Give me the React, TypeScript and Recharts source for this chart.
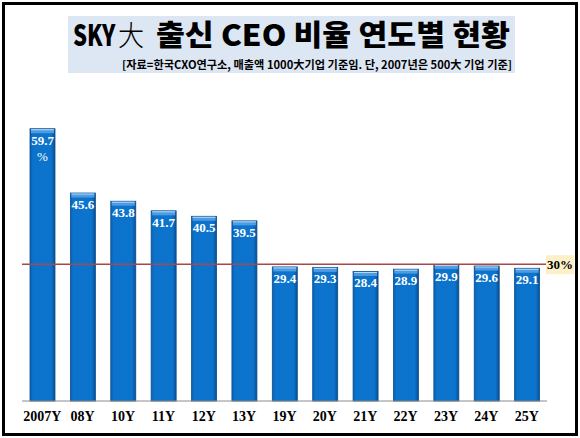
import React from 'react';
import { BarChart, Bar, XAxis, YAxis, ReferenceLine, LabelList } from 'recharts';

const years = ['2007Y', '08Y', '10Y', '11Y', '12Y', '13Y', '19Y', '20Y', '21Y', '22Y', '23Y', '24Y', '25Y'];
const ratios = [59.7, 45.6, 43.8, 41.7, 40.5, 39.5, 29.4, 29.3, 28.4, 28.9, 29.9, 29.6, 29.1];
const benchmark = 30;
const benchmarkLabel = '30%';
const titleParts = ['SKY', '大', '출신 CEO 비율 연도별 현황'];
const subtitle = '[자료=한국CXO연구소, 매출액 1000大기업  기준임. 단, 2007년은 500大 기업 기준]';

const data = years.map((year, i) => ({ year, ratio: ratios[i] }));

const SERIF = '"Liberation Serif", "Times New Roman", serif';
const KR = '"Noto Sans CJK KR", "Noto Sans", sans-serif';

const BevelBar = (props: any) => {
  const { x, y, width, height, index } = props;
  if (height <= 0) return null;
  const gid = `bg${index}`;
  return (
    <g>
      <defs>
        <linearGradient id={gid} x1="0" y1="0" x2="1" y2="0">
          <stop offset="0%" stopColor="#0a5fae" />
          <stop offset="12%" stopColor="#0c73cc" />
          <stop offset="85%" stopColor="#0c74cd" />
          <stop offset="100%" stopColor="#084f93" />
        </linearGradient>
      </defs>
      <rect x={x} y={y} width={width} height={height} fill={`url(#${gid})`} stroke="#0a4f8e" strokeWidth={0.8} />
      <rect x={x + 1} y={y + 0.5} width={width - 2} height={4} fill="#4d9be0" />
      <line x1={x + 1} x2={x + width - 1} y1={y + 1} y2={y + 1} stroke="#b9dcf7" strokeWidth={1} />
    </g>
  );
};

const BarValue = (props: any) => {
  const { x, y, width, value, index } = props;
  const cx = x + width / 2;
  return (
    <g>
      <text x={cx} y={y + 16} textAnchor="middle" fill="#ffffff" fontFamily={SERIF} fontWeight={700} fontSize={13}>
        {value}
      </text>
      {index === 0 && (
        <text x={cx} y={y + 32} textAnchor="middle" fill="#ffffff" fontFamily={SERIF} fontWeight={400} fontSize={13}>
          %
        </text>
      )}
    </g>
  );
};

const BenchLabel = (props: any) => {
  const { viewBox } = props;
  const x = viewBox.x + viewBox.width;
  const y = viewBox.y;
  return (
    <g>
      <rect x={x - 1} y={y - 9} width={28} height={19} fill="#fdf0c9" />
      <text x={x + 13} y={y + 5} textAnchor="middle" fill="#000" fontFamily={SERIF} fontWeight={700} fontSize={13}>
        {benchmarkLabel}
      </text>
    </g>
  );
};

export default function App() {
  return (
    <div style={{ position: 'absolute', left: 0, top: 0, width: 580, height: 438, background: '#fff', overflow: 'hidden' }}>
      <BarChart
        width={580}
        height={438}
        data={data}
        margin={{ top: 100, right: 33, left: 22, bottom: 7 }}
        barSize={25}
      >
        <XAxis
          dataKey="year"
          axisLine={{ stroke: '#8c8c8c', strokeWidth: 1 }}
          tickLine={false}
          height={30}
          tickMargin={4}
          interval={0}
          tick={{ fill: '#000', fontFamily: SERIF, fontWeight: 700, fontSize: 14 }}
        />
        <YAxis hide domain={[0, 66]} />
        <Bar dataKey="ratio" shape={<BevelBar />} isAnimationActive={false}>
          <LabelList dataKey="ratio" content={<BarValue />} />
        </Bar>
        <ReferenceLine y={benchmark} stroke="#a8484a" strokeWidth={1.5} label={<BenchLabel />} />
      </BarChart>
      <svg width={580} height={90} style={{ position: 'absolute', left: 0, top: 0 }}>
        <rect x={68} y={16} width={447} height={57} fill="#dde7f4" />
        <g transform="translate(73,46) scale(0.76,1)">
          <text x={0} y={0} fontFamily={KR} fontWeight={900} fontSize={29} fill="#000">
            {titleParts[0]}
          </text>
        </g>
        <g transform="translate(118,46) scale(0.9,1)">
          <text x={0} y={0} fontFamily={KR} fontWeight={300} fontSize={29} fill="#000">
            {titleParts[1]}
          </text>
        </g>
        <text x={156} y={46} fontFamily={KR} fontWeight={900} fontSize={29} fill="#000" textLength={354} lengthAdjust="spacingAndGlyphs">
          {titleParts[2]}
        </text>
        <text x={122} y={69} fontFamily={KR} fontWeight={700} fontSize={11} fill="#000" textLength={390} lengthAdjust="spacingAndGlyphs">
          {subtitle}
        </text>
      </svg>
      <div style={{ position: 'absolute', left: 2, top: 2, width: 576, height: 434, border: '3px solid #000', boxSizing: 'border-box', pointerEvents: 'none' }} />
    </div>
  );
}
